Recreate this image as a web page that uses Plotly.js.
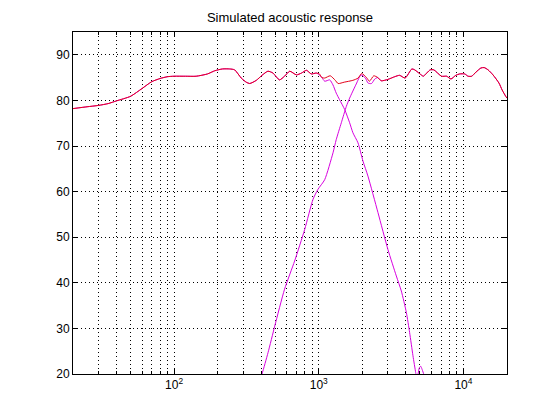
<!DOCTYPE html>
<html>
<head>
<meta charset="utf-8">
<script src="https://cdn.plot.ly/plotly-3.0.1.min.js"></script>
<style>
html, body { margin: 0; padding: 0; background: #ffffff; }
#chart { width: 560px; height: 420px; }
</style>
</head>
<body>
<div id="chart"></div>
<script>
// ---- Data ----
const titleText = 'Simulated acoustic response';

// Total acoustic response (red)
const freqTotal = [20,25,30,35,40,50,60,70,80,90,100,120,142,170,191,216,242,262,291,315,333,370,405,445,482,535,580,630,700,760,822,887,960,1010,1050,1100,1200,1300,1360,1500,1720,1870,1980,2140,2240,2400,2560,2700,3000,3350,3620,3950,4400,4600,5150,5280,5890,6240,7050,7660,8200,8850,9400,10210,10760,11400,12200,13200,13900,14800,16000,17600,18500,19600,20000];
const splTotal  = [78.2,78.6,78.9,79.3,79.9,80.9,82.6,84.1,84.8,85.2,85.3,85.3,85.3,85.8,86.5,86.9,86.9,86.7,84.9,84.0,83.7,84.4,85.5,86.4,86.0,84.5,85.3,86.4,85.6,86.0,86.6,85.8,86.0,85.8,85.0,84.9,85.4,84.4,83.7,84.0,84.4,84.9,85.9,85.0,84.2,85.4,85.0,84.3,84.6,85.2,85.5,84.9,86.9,86.7,85.5,85.3,86.7,86.7,85.3,85.3,84.7,85.5,85.8,85.8,85.3,85.3,86.2,87.1,87.2,86.7,85.6,83.8,82.3,80.9,80.5];

// Woofer / low-pass branch (magenta)
const freqWoofer = [20,25,30,35,40,50,60,70,80,90,100,120,142,170,191,216,242,262,291,315,333,370,405,445,482,535,580,630,700,760,822,887,960,1010,1050,1100,1190,1253,1320,1390,1510,1634,1722,1866,2020,2187,2565,3006,3435,3720,4030,4245,4477,4676,4770,4850,4960,5060,5180,5330,5500,6000];
const splWoofer  = [78.2,78.6,78.9,79.3,79.9,80.9,82.6,84.1,84.8,85.2,85.3,85.3,85.3,85.8,86.5,86.9,86.9,86.7,84.9,84.0,83.7,84.4,85.5,86.4,86.0,84.5,85.3,86.4,85.6,86.0,86.6,85.8,86.0,85.6,85.0,84.2,84.5,83.4,81.6,80.2,78.0,75.1,72.9,70.7,66.7,63.4,55.4,47.3,41.5,38.2,33.5,29.1,24.0,20.3,18.6,19.9,21.4,21.7,21.0,19.8,17.0,12.0];

// Tweeter / high-pass branch (magenta)
const freqTweeter = [370,405,446,496,580,681,799,912,987,1098,1254,1320,1432,1551,1634,1815,1960,2100,2190,2315,2440,2560,2700,3000,3350,3620,3950,4400,4600,5150,5280,5890,6240,7050,7660,8200,8850,9400,10210,10760,11400,12200,13200,13900,14800,16000,17600,18500,19600,20000];
const splTweeter  = [16.5,20.0,24.7,30.5,38.6,44.8,51.7,58.3,60.5,62.6,68.5,71.4,75.1,78.7,80.5,83.6,85.6,84.9,83.8,83.7,84.7,85.0,84.3,84.6,85.2,85.5,84.9,86.9,86.7,85.5,85.3,86.7,86.7,85.3,85.3,84.7,85.5,85.8,85.8,85.3,85.3,86.2,87.1,87.2,86.7,85.6,83.8,82.3,80.9,80.5];

// Axis ticks
const xRange = [20, 20000];
const xMajorVals = [100, 1000, 10000];
const xMajorText = ['10<sup>2</sup>', '10<sup>3</sup>', '10<sup>4</sup>'];
const xMinorVals = [30,40,50,60,70,80,90,200,300,400,500,600,700,800,900,2000,3000,4000,5000,6000,7000,8000,9000];
const yRange = [20, 95];
const yTickVals = [20,30,40,50,60,70,80,90];

// ---- Styles ----
const RED = '#e4001a';
const MAG = '#d800e0';
const FONT = 'Liberation Sans, Arial, Helvetica, sans-serif';
const GRID_DASH = '1px,3px';

const traces = [
  { x: freqWoofer, y: splWoofer, type: 'scatter', mode: 'lines',
    line: { color: MAG, width: 1, shape: 'spline', smoothing: 0.6 }, hoverinfo: 'skip' },
  { x: freqTweeter, y: splTweeter, type: 'scatter', mode: 'lines',
    line: { color: MAG, width: 1, shape: 'spline', smoothing: 0.6 }, hoverinfo: 'skip' },
  { x: freqTotal, y: splTotal, type: 'scatter', mode: 'lines',
    line: { color: RED, width: 1, shape: 'spline', smoothing: 0.6 }, hoverinfo: 'skip' }
];

const layout = {
  width: 560, height: 420,
  margin: { l: 73, r: 53, t: 32, b: 46, pad: 0 },
  paper_bgcolor: '#ffffff', plot_bgcolor: '#ffffff',
  showlegend: false,
  font: { family: FONT, size: 12, color: '#000000' },
  title: {
    text: titleText,
    font: { family: FONT, size: 13, color: '#000000' },
    x: 0.5, xref: 'paper', xanchor: 'center',
    y: 1 - 17 / 420, yref: 'container', yanchor: 'middle'
  },
  xaxis: {
    type: 'log',
    range: [Math.log10(xRange[0]), Math.log10(xRange[1])],
    tickmode: 'array', tickvals: xMajorVals, ticktext: xMajorText,
    ticks: 'inside', ticklen: 5, tickcolor: '#000', tickwidth: 1,
    showline: true, linecolor: '#000', linewidth: 1, mirror: 'allticks',
    showgrid: true, gridcolor: '#000', gridwidth: 1, griddash: GRID_DASH,
    zeroline: false,
    tickfont: { family: FONT, size: 12, color: '#000' },
    minor: {
      tickmode: 'array', tickvals: xMinorVals,
      ticks: 'inside', ticklen: 3, tickcolor: '#000', tickwidth: 1,
      showgrid: true, gridcolor: '#000', gridwidth: 1, griddash: GRID_DASH
    }
  },
  yaxis: {
    range: yRange,
    tickmode: 'array', tickvals: yTickVals,
    ticks: 'inside', ticklen: 5, tickcolor: '#000', tickwidth: 1,
    showline: true, linecolor: '#000', linewidth: 1, mirror: 'allticks',
    showgrid: true, gridcolor: '#000', gridwidth: 1, griddash: GRID_DASH,
    zeroline: false,
    tickfont: { family: FONT, size: 12, color: '#000' }
  }
};

Plotly.newPlot('chart', traces, layout, { staticPlot: true, displayModeBar: false });
</script>
</body>
</html>
